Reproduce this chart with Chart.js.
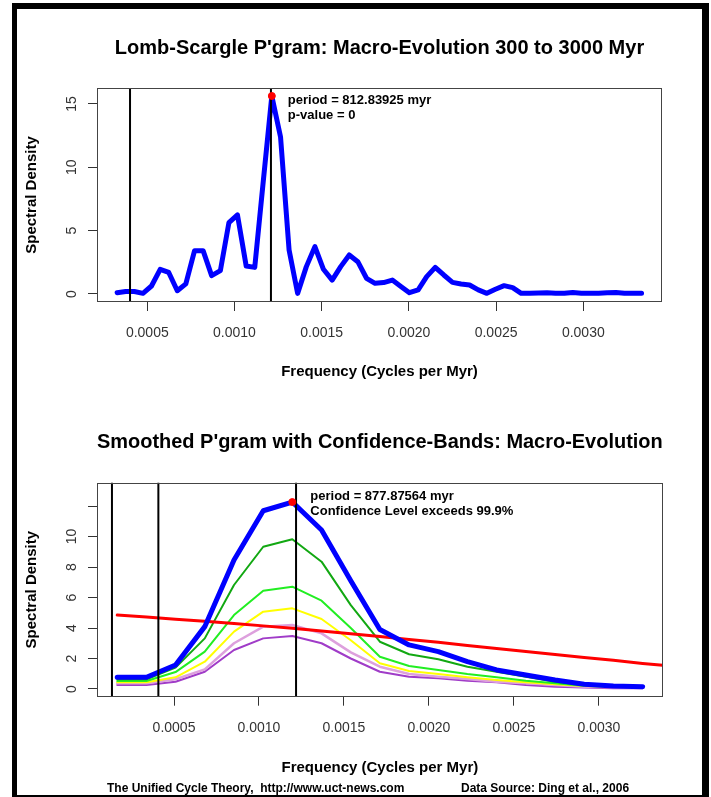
<!DOCTYPE html>
<html>
<head>
<meta charset="utf-8">
<script src="https://cdn.jsdelivr.net/npm/chart.js@4.4.1/dist/chart.umd.min.js"></script>
<style>
  body { margin: 0; background: #fff; }
  #page { position: relative; width: 711px; height: 797px; overflow: hidden; }
  #frame { position: absolute; left: 12px; top: 3px; width: 697px; height: 794px; box-sizing: border-box;
           border-style: solid; border-color: #000; border-width: 6px 7px 2px 5px; }
  canvas { position: absolute; left: 0; }
  .foot { position: absolute; top: 781px; font: bold 12px "Liberation Sans", Arial, sans-serif; white-space: pre; color: #000; }
</style>
</head>
<body>
<div id="page">
  <div id="frame"></div>
  <canvas id="topChart" width="711" height="400" style="top:0"></canvas>
  <canvas id="botChart" width="711" height="397" style="top:400px"></canvas>
  <div class="foot" style="left:107px">The Unified Cycle Theory,  http://www.uct-news.com</div>
  <div class="foot" style="left:461px">Data Source: Ding et al., 2006</div>
</div>

<script>
// ---- top panel: Lomb-Scargle periodogram ----
var topFreq = [0.000327, 0.000376, 0.000426, 0.000475, 0.000524, 0.000574, 0.000623, 0.000672, 0.000721, 0.000771,
               0.000820, 0.000869, 0.000919, 0.000968, 0.001017, 0.001067, 0.001116, 0.001165, 0.001214, 0.001264,
               0.001313, 0.001362, 0.001412, 0.001461, 0.001510, 0.001560, 0.001609, 0.001658, 0.001707, 0.001757,
               0.001806, 0.001855, 0.001905, 0.001954, 0.002003, 0.002053, 0.002102, 0.002151, 0.002200, 0.002250,
               0.002299, 0.002348, 0.002398, 0.002447, 0.002496, 0.002546, 0.002595, 0.002644, 0.002693, 0.002743,
               0.002792, 0.002841, 0.002891, 0.002940, 0.002989, 0.003039, 0.003088, 0.003137, 0.003187, 0.003236,
               0.003285, 0.003334];
var topPower = [0.1, 0.2, 0.2, 0.05, 0.63, 1.95, 1.7, 0.26, 0.8, 3.42,
                3.42, 1.45, 1.84, 5.63, 6.24, 2.21, 2.1, 8.9, 15.63, 12.4,
                3.47, 0.05, 2.16, 3.74, 1.95, 1.1, 2.16, 3.08, 2.55, 1.24,
                0.84, 0.9, 1.1, 0.6, 0.1, 0.32, 1.37, 2.1, 1.5, 0.92,
                0.79, 0.71, 0.32, 0.05, 0.37, 0.66, 0.5, 0.05, 0.05, 0.08,
                0.1, 0.05, 0.05, 0.12, 0.06, 0.05, 0.05, 0.1, 0.12, 0.05,
                0.05, 0.05];
var topMarkers = [0.000401, 0.001209];
var topPeak = { x: 0.001214, y: 15.63 };
var topNotes = ['period = 812.83925 myr', 'p-value = 0'];
var topXTicks = [0.0005, 0.0010, 0.0015, 0.0020, 0.0025, 0.0030];
var topYTicks = [0, 5, 10, 15];

// ---- bottom panel: smoothed periodogram with confidence bands ----
var botFreq = [0.000166, 0.000338, 0.000509, 0.000681, 0.000853, 0.001025, 0.001196, 0.001368, 0.001540, 0.001711,
               0.001883, 0.002055, 0.002226, 0.002398, 0.002570, 0.002742, 0.002913, 0.003085, 0.003257];
var botBlue      = [0.77, 0.77, 1.57, 4.09, 8.46, 11.69, 12.26, 10.43, 7.1, 3.9, 2.89, 2.45, 1.79, 1.25, 0.92, 0.59, 0.31, 0.2, 0.15];
var botDarkGreen = [0.64, 0.64, 1.4, 3.32, 6.82, 9.33, 9.82, 8.35, 5.5, 3.1, 2.28, 1.95, 1.46, 1.13, 0.8, 0.48, 0.26, 0.2, 0.15];
var botGreen     = [0.52, 0.52, 1.11, 2.45, 4.85, 6.45, 6.71, 5.79, 4.0, 2.12, 1.51, 1.25, 0.98, 0.77, 0.54, 0.37, 0.22, 0.15, 0.13];
var botYellow    = [0.44, 0.44, 0.77, 1.79, 3.76, 5.07, 5.29, 4.59, 3.2, 1.69, 1.18, 0.98, 0.77, 0.59, 0.44, 0.31, 0.2, 0.15, 0.13];
var botPink      = [0.37, 0.37, 0.64, 1.29, 3.0, 4.09, 4.2, 3.65, 2.4, 1.46, 0.98, 0.8, 0.66, 0.48, 0.37, 0.26, 0.15, 0.12, 0.1];
var botPurple    = [0.26, 0.26, 0.48, 1.13, 2.56, 3.32, 3.47, 3.0, 2.0, 1.13, 0.8, 0.7, 0.54, 0.44, 0.26, 0.15, 0.1, 0.05, 0.05];
var redFreq  = [0.000166, 0.000338, 0.000509, 0.000681, 0.000853, 0.001025, 0.001196, 0.001368, 0.001540, 0.001711,
                0.001883, 0.002055, 0.002226, 0.002398, 0.002570, 0.002742, 0.002913, 0.003085, 0.003257, 0.003375];
var redNoise = [4.85, 4.72, 4.58, 4.44, 4.3, 4.14, 3.98, 3.8, 3.62, 3.44,
                3.25, 3.06, 2.86, 2.66, 2.46, 2.26, 2.06, 1.88, 1.68, 1.56];
var botMarkers = [0.000135, 0.000408, 0.001218];
var botPeak = { x: 0.001196, y: 12.26 };
var botNotes = ['period = 877.87564 myr', 'Confidence Level exceeds 99.9%'];
var botXTicks = [0.0005, 0.0010, 0.0015, 0.0020, 0.0025, 0.0030];
var botYTicks = [0, 2, 4, 6, 8, 10, 12];
var botYLabels = [0, 2, 4, 6, 8, 10];

var FONT = '"Liberation Sans", Arial, sans-serif';
Chart.defaults.font.family = FONT;
Chart.defaults.color = '#000';

function pairs(xs, ys) {
    return xs.map(function (x, i) { return { x: x, y: ys[i] }; });
}

function line(data, color, width) {
    return { data: data, borderColor: color, borderWidth: width, pointRadius: 0, tension: 0,
             fill: false, borderCapStyle: 'round', borderJoinStyle: 'round' };
}

function markerSets(xs, ymin, ymax) {
    return xs.map(function (x) {
        return line([{ x: x, y: ymin }, { x: x, y: ymax }], '#000', 2);
    });
}

function peakSet(p) {
    return { data: [p], showLine: false, pointRadius: 3.5, pointBackgroundColor: '#f00',
             pointBorderColor: '#f00', borderColor: '#f00' };
}

// box, rotated y labels and the peak notes, R style
var rStyle = {
    id: 'rStyle',
    afterDraw: function (chart, args, opts) {
        var ctx = chart.ctx, a = chart.chartArea, y = chart.scales.y;
        ctx.save();
        ctx.strokeStyle = '#444';
        ctx.lineWidth = 1;
        ctx.strokeRect(Math.round(a.left) + 0.5, Math.round(a.top) + 0.5,
                       Math.round(a.right - a.left) - 1, Math.round(a.bottom - a.top) - 1);

        ctx.fillStyle = '#333';
        ctx.font = '14px ' + FONT;
        ctx.textAlign = 'center';
        ctx.textBaseline = 'middle';
        opts.labels.forEach(function (v) {
            ctx.save();
            ctx.translate(72, y.getPixelForValue(v));
            ctx.rotate(-Math.PI / 2);
            ctx.fillText(String(v), 0, 0);
            ctx.restore();
        });

        var px = chart.scales.x.getPixelForValue(opts.peak.x);
        var py = y.getPixelForValue(opts.peak.y);
        ctx.fillStyle = '#000';
        ctx.font = 'bold 13px ' + FONT;
        ctx.textAlign = 'left';
        opts.notes.forEach(function (t, i) {
            ctx.fillText(t, px + opts.dx, py + opts.dy + i * 15);
        });
        ctx.restore();
    }
};

function makeChart(id, cfg) {
    return new Chart(document.getElementById(id), {
        type: 'line',
        data: { datasets: cfg.datasets },
        plugins: [rStyle],
        options: {
            responsive: false,
            animation: false,
            events: [],
            layout: { padding: { left: 0, right: cfg.padRight, top: 0, bottom: 0 } },
            plugins: {
                legend: { display: false },
                tooltip: { enabled: false },
                title: {
                    display: true, text: cfg.title, fullSize: false, color: '#000',
                    font: { size: 20, weight: 'bold' },
                    padding: { top: cfg.titleTop, bottom: cfg.titleBottom }
                },
                rStyle: { labels: cfg.yLabels, peak: cfg.peak, notes: cfg.notes, dx: cfg.noteDx, dy: cfg.noteDy }
            },
            scales: {
                x: {
                    type: 'linear', min: cfg.xMin, max: cfg.xMax,
                    afterBuildTicks: function (s) { s.ticks = cfg.xTicks.map(function (v) { return { value: v }; }); },
                    afterFit: function (s) { s.height = cfg.xHeight; },
                    grid: { drawOnChartArea: false, drawTicks: true, tickLength: 9, tickColor: '#333' },
                    border: { display: false },
                    ticks: {
                        autoSkip: false, maxRotation: 0, padding: 14, color: '#333', font: { size: 14 },
                        callback: function (v) { return v.toFixed(4); }
                    },
                    title: {
                        display: true, text: 'Frequency (Cycles per Myr)', color: '#000',
                        font: { size: 15, weight: 'bold' }, padding: { top: 0, bottom: cfg.xTitlePad }
                    }
                },
                y: {
                    min: cfg.yMin, max: cfg.yMax,
                    afterBuildTicks: function (s) { s.ticks = cfg.yTicks.map(function (v) { return { value: v }; }); },
                    afterFit: function (s) { s.width = 97; },
                    grid: { drawOnChartArea: false, drawTicks: true, tickLength: 9, tickColor: '#333' },
                    border: { display: false },
                    ticks: { display: false },
                    title: {
                        display: true, text: 'Spectral Density', color: '#000',
                        font: { size: 15, weight: 'bold' }, padding: { top: 23, bottom: 0 }
                    }
                }
            }
        }
    });
}

var topY = [-0.632, 16.26];
makeChart('topChart', {
    title: "Lomb-Scargle P'gram: Macro-Evolution 300 to 3000 Myr",
    titleTop: 36, titleBottom: 28,
    padRight: 49,
    xMin: 0.0002116, xMax: 0.0034513, xTicks: topXTicks, xHeight: 98, xTitlePad: 19,
    yMin: topY[0], yMax: topY[1], yTicks: topYTicks, yLabels: topYTicks,
    peak: topPeak, notes: topNotes, noteDx: 16, noteDy: 4,
    datasets: [peakSet(topPeak)]
        .concat(markerSets(topMarkers, topY[0], topY[1]))
        .concat([line(pairs(topFreq, topPower), '#0000ff', 5)])
});

var botY = [-0.505, 13.53];
makeChart('botChart', {
    title: "Smoothed P'gram with Confidence-Bands: Macro-Evolution",
    titleTop: 30, titleBottom: 28.7,
    padRight: 48.3,
    xMin: 0.000047, xMax: 0.003375, xTicks: botXTicks, xHeight: 100.3, xTitlePad: 20,
    yMin: botY[0], yMax: botY[1], yTicks: botYTicks, yLabels: botYLabels,
    peak: botPeak, notes: botNotes, noteDx: 18, noteDy: -6,
    datasets: [peakSet(botPeak)]
        .concat(markerSets(botMarkers, botY[0], botY[1]))
        .concat([
            line(pairs(botFreq, botBlue), '#0000ff', 5),
            line(pairs(redFreq, redNoise), '#ff0000', 3),
            line(pairs(botFreq, botDarkGreen), '#12a812', 2),
            line(pairs(botFreq, botGreen), '#22ee22', 2),
            line(pairs(botFreq, botYellow), '#ffff00', 2),
            line(pairs(botFreq, botPink), '#dda0dd', 2.5),
            line(pairs(botFreq, botPurple), '#a03cc8', 2)
        ])
});
</script>
</body>
</html>
